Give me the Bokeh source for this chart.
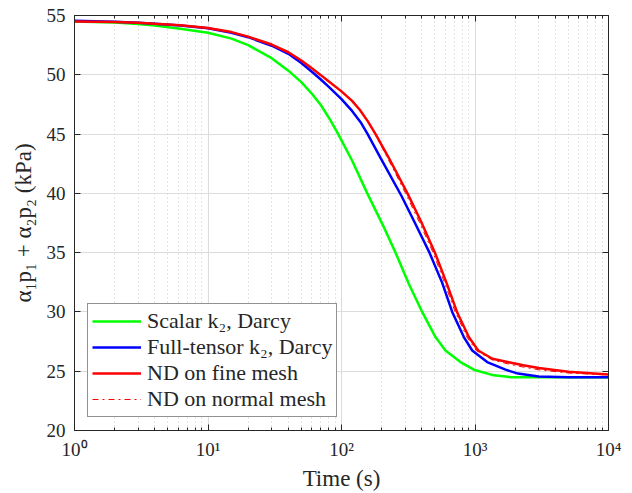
from bokeh.plotting import figure
from bokeh.models import Range1d, FixedTicker, LinearAxis, LogAxis, Legend, LegendItem
from bokeh.embed import file_html
from bokeh.resources import INLINE

# ---- data ----
green_t = [1, 2, 3, 4, 6.2, 10, 15, 20, 30, 40, 50, 60, 70, 82.7, 94.5, 120, 156, 202, 254, 319, 402, 506, 601, 778, 980, 1384, 1845, 3000, 10000]
green_v = [54.5, 54.4, 54.28, 54.15, 53.88, 53.55, 53.05, 52.5, 51.4, 50.35, 49.38, 48.4, 47.45, 46.15, 45.0, 42.77, 40.0, 37.43, 35.0, 32.38, 30.0, 27.88, 26.75, 25.77, 25.13, 24.65, 24.5, 24.5, 24.5]

blue_t = [1, 2, 3, 4, 6.2, 10, 15, 20, 30, 40, 50, 60, 70, 80, 100, 120, 139, 157, 196, 281, 355, 456, 568, 675, 825, 953, 1234, 1692, 2100, 3000, 5000, 10000]
blue_v = [54.55, 54.47, 54.38, 54.3, 54.16, 53.93, 53.55, 53.17, 52.45, 51.77, 51.0, 50.25, 49.6, 49.0, 47.95, 46.95, 46.0, 45.0, 43.0, 39.8, 37.5, 35.0, 32.45, 30.0, 27.88, 26.75, 25.77, 25.13, 24.8, 24.55, 24.5, 24.5]

red_t = [1, 2, 3, 4, 6.2, 10, 15, 20, 30, 40, 50, 60, 70, 80, 100, 120, 137, 158, 180, 226, 312, 395, 501, 612, 733, 899, 1057, 1350, 1790, 2300, 3000, 5000, 10000]
red_v = [54.5, 54.45, 54.38, 54.3, 54.18, 53.95, 53.6, 53.22, 52.55, 51.9, 51.2, 50.55, 49.97, 49.45, 48.6, 47.8, 47.05, 46.05, 45.0, 43.0, 40.0, 37.6, 35.0, 32.45, 30.0, 27.88, 26.75, 26.05, 25.75, 25.5, 25.28, 24.95, 24.72]

redn_t = [1, 2, 3, 4, 6.2, 10, 15, 20, 30, 40, 50, 60, 70, 80, 100, 120, 137, 157, 178, 221, 302, 382, 485, 592, 710, 870, 1020, 1350, 1790, 2300, 3000, 5000, 10000]
redn_v = [54.5, 54.45, 54.38, 54.3, 54.18, 53.95, 53.6, 53.22, 52.55, 51.9, 51.2, 50.55, 49.97, 49.45, 48.6, 47.8, 47.05, 46.05, 45.0, 43.0, 40.0, 37.6, 35.0, 32.45, 30.0, 27.88, 26.75, 25.95, 25.6, 25.35, 25.12, 24.85, 24.68]

x_major = [1, 10, 100, 1000, 10000]
x_labels = ["10\u2070", "10\u00b9", "10\u00b2", "10\u00b3", "10\u2074"]
y_major = [20, 25, 30, 35, 40, 45, 50, 55]
labels = ["Scalar k\u2082, Darcy", "Full-tensor k\u2082, Darcy", "ND on fine mesh", "ND on normal mesh"]

FONT = "Liberation Serif"
AX = "#262626"

x_minor = [m * d for d in [1, 10, 100, 1000] for m in range(2, 10)]

p = figure(width=632, height=493, x_axis_type="log",
           x_range=Range1d(1, 10000), y_range=Range1d(20, 55),
           output_backend="svg", toolbar_location=None,
           min_border_left=74, min_border_right=24, min_border_top=15, min_border_bottom=63)

xt = FixedTicker(ticks=x_major, minor_ticks=x_minor)
yt = FixedTicker(ticks=y_major, minor_ticks=[])
p.xaxis.ticker = xt
p.yaxis.ticker = yt
p.xgrid.ticker = xt
p.ygrid.ticker = yt

p.xaxis.major_label_overrides = {v: l for v, l in zip(x_major, x_labels)}

p.grid.grid_line_color = "#dcdcdc"
p.grid.grid_line_width = 1
p.xgrid.minor_grid_line_color = "#c8c8c8"
p.xgrid.minor_grid_line_dash = "1 3"
p.xgrid.minor_grid_line_width = 1

p.outline_line_color = AX
p.outline_line_width = 1

for ax in [p.xaxis[0], p.yaxis[0]]:
    ax.axis_line_color = AX
    ax.major_tick_line_color = AX
    ax.minor_tick_line_color = AX
    ax.major_tick_in = 6
    ax.major_tick_out = 0
    ax.minor_tick_in = 3
    ax.minor_tick_out = 0
    ax.major_label_text_font = FONT
    ax.major_label_text_font_size = "19px"
    ax.major_label_text_color = AX
    ax.axis_label_text_font = FONT
    ax.axis_label_text_font_size = "23px"
    ax.axis_label_text_font_style = "normal"
    ax.axis_label_text_color = AX

p.xaxis.major_label_standoff = 8
p.xaxis.axis_label = "Time (s)"
p.xaxis.axis_label_standoff = 3
p.yaxis.major_label_standoff = 9
p.yaxis.axis_label = "\u03b1\u2081p\u2081 + \u03b1\u2082p\u2082 (kPa)"
p.yaxis.axis_label_standoff = 8

# box axes (top and right) with inward ticks, invisible labels
top = LogAxis(ticker=xt, major_label_text_font_size="1px", major_label_text_color=None,
              major_tick_in=6, major_tick_out=0,
              minor_tick_in=3, minor_tick_out=0, axis_line_color=AX,
              major_tick_line_color=AX, minor_tick_line_color=AX, major_label_standoff=0)
right = LinearAxis(ticker=yt, major_label_text_font_size="1px", major_label_text_color=None,
                   major_tick_in=6, major_tick_out=0,
                   minor_tick_in=0, minor_tick_out=0, axis_line_color=AX,
                   major_tick_line_color=AX, major_label_standoff=0)
p.add_layout(top, "above")
p.add_layout(right, "right")

r1 = p.line(green_t, green_v, line_color="#00ff00", line_width=2.5)
r2 = p.line(blue_t, blue_v, line_color="#0000ff", line_width=2.5)
r3 = p.line(red_t, red_v, line_color="#ff0000", line_width=2.5)
r4 = p.line(redn_t, redn_v, line_color="#ff0000", line_width=1, line_dash="dashdot")

legend = Legend(items=[LegendItem(label=l, renderers=[r]) for l, r in zip(labels, [r1, r2, r3, r4])],
                location=(13, 13))
legend.label_text_font = FONT
legend.label_text_font_size = "22px"
legend.label_text_color = AX
legend.glyph_width = 49
legend.glyph_height = 20
legend.label_height = 20
legend.spacing = 0
legend.padding = 4
legend.margin = 0
legend.label_standoff = 6
legend.border_line_color = AX
legend.border_line_width = 1
legend.background_fill_color = "white"
legend.background_fill_alpha = 1
p.add_layout(legend, "center")

open("out.html", "w").write(file_html(p, INLINE))
